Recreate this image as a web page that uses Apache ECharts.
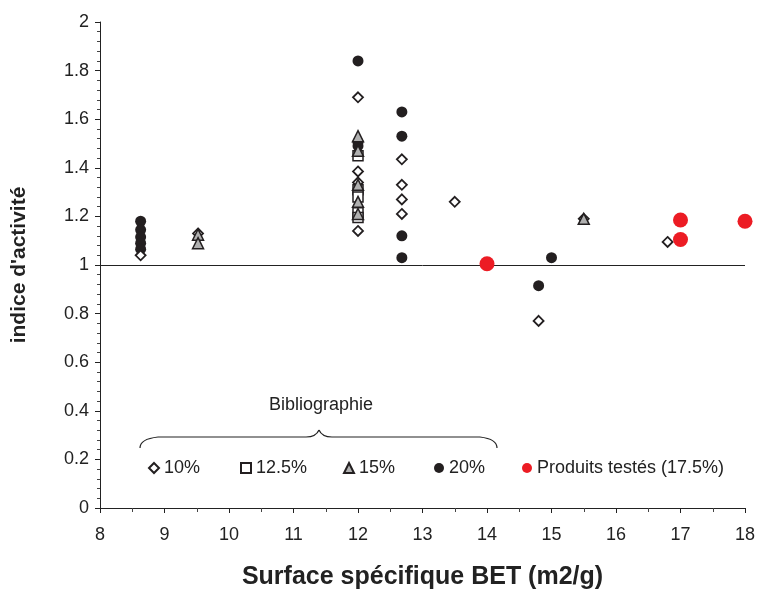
<!DOCTYPE html>
<html>
<head>
<meta charset="utf-8">
<script src="https://cdn.jsdelivr.net/npm/echarts@6/dist/echarts.min.js"></script>
<style>
  html, body { margin: 0; padding: 0; background: #fff; }
  #chart { width: 757px; height: 597px; }
</style>
</head>
<body>
<div id="chart"></div>
<script>
// values: [surface BET, indice d'activité]
const biblio10 = [[8.63,1.04],[9.52,1.13],[12,1.69],[12,1.385],[12,1.34],[12,1.14],[12.68,1.435],[12.68,1.33],[12.68,1.27],[12.68,1.21],[13.5,1.26],[14.8,0.77],[15.5,1.19],[16.8,1.095]];
const biblio125 = [[12,1.45],[12,1.31],[12,1.28],[12,1.215],[12,1.195]];
const biblio15 = [[9.52,1.125],[9.52,1.09],[12,1.53],[12,1.47],[12,1.33],[12,1.26],[12,1.21],[15.5,1.19]];
const biblio20 = [[8.63,1.18],[8.63,1.145],[8.63,1.115],[8.63,1.09],[8.63,1.065],[12,1.84],[12,1.505],[12,1.49],[12,1.30],[12.68,1.63],[12.68,1.53],[12.68,1.12],[12.68,1.03],[14.8,0.915],[15,1.03]];
const produits = [[14,1.005],[17,1.185],[17,1.105],[18,1.18]];

const names = ['10%', '12.5%', '15%', '20%', 'Produits testés (17.5%)'];
const legendLeft = [143, 235, 338, 429, 517];

const chart = echarts.init(document.getElementById('chart'));
const font = 'Liberation Sans, Arial, sans-serif';

const axisCommon = {
  axisLine: { lineStyle: { color: '#222', width: 1 } },
  axisTick: { length: 5, lineStyle: { color: '#222' } },
  splitLine: { show: false }
};

// curly brace under "Bibliographie"
const braceStyle = { fill: 'none', stroke: '#222', lineWidth: 1.2 };
const brace = [
  { type: 'bezierCurve', shape: { x1: 140, y1: 448, x2: 158, y2: 437, cpx1: 140, cpy1: 439 }, style: braceStyle },
  { type: 'line', shape: { x1: 158, y1: 437, x2: 306, y2: 437 }, style: braceStyle },
  { type: 'bezierCurve', shape: { x1: 306, y1: 437, x2: 319, y2: 430, cpx1: 316, cpy1: 437 }, style: braceStyle },
  { type: 'bezierCurve', shape: { x1: 319, y1: 430, x2: 332, y2: 437, cpx1: 322, cpy1: 437 }, style: braceStyle },
  { type: 'line', shape: { x1: 332, y1: 437, x2: 480, y2: 437 }, style: braceStyle },
  { type: 'bezierCurve', shape: { x1: 480, y1: 437, x2: 497, y2: 448, cpx1: 497, cpy1: 439 }, style: braceStyle }
];

const option = {
  animation: false,
  backgroundColor: '#fff',
  grid: { left: 100, right: 12, top: 22, bottom: 89, containLabel: false, outerBoundsMode: 'none' },
  xAxis: Object.assign({}, axisCommon, {
    type: 'value', min: 8, max: 18, interval: 1,
    minorTick: { show: true, splitNumber: 2, length: 4, lineStyle: { color: '#444' } },
    axisLabel: { color: '#222', fontSize: 18, fontFamily: font, margin: 18 },
    name: 'Surface spécifique BET (m2/g)', nameLocation: 'middle', nameGap: 57,
    nameTextStyle: { fontSize: 25, fontWeight: 'bold', color: '#222', fontFamily: font }
  }),
  yAxis: Object.assign({}, axisCommon, {
    type: 'value', min: 0, max: 2, interval: 0.2,
    minorTick: { show: true, splitNumber: 5, length: 3, lineStyle: { color: '#444' } },
    axisLabel: { color: '#222', fontSize: 18, fontFamily: font, margin: 11 },
    name: "indice d'activité", nameLocation: 'middle', nameGap: 70,
    nameTextStyle: { fontSize: 21, fontWeight: 'bold', color: '#222', fontFamily: font }
  }),
  legend: names.map((n, i) => ({
    data: [n], left: legendLeft[i], top: 454,
    itemWidth: 10, itemHeight: 10, itemGap: 4,
    textStyle: { fontSize: 18, color: '#222', fontFamily: font }
  })),
  graphic: [
    { type: 'text', left: 269, top: 396,
      style: { text: 'Bibliographie', fontSize: 18, fill: '#222', fontFamily: font } }
  ].concat(brace),
  series: [
    { name: '20%', type: 'scatter', data: biblio20, symbol: 'circle', symbolSize: 11,
      itemStyle: { color: '#231f20', opacity: 1 }, z: 2,
      markLine: { silent: true, symbol: 'none', label: { show: false },
        lineStyle: { color: '#222', width: 1, type: 'solid' },
        data: [{ yAxis: 1 }] } },
    { name: '12.5%', type: 'scatter', data: biblio125, symbol: 'rect', symbolSize: 10,
      itemStyle: { color: '#fff', borderColor: '#231f20', borderWidth: 1.5, opacity: 1 }, z: 3 },
    { name: '10%', type: 'scatter', data: biblio10, symbol: 'diamond', symbolSize: 10,
      itemStyle: { color: '#fff', borderColor: '#231f20', borderWidth: 1.8, opacity: 1 }, z: 4 },
    { name: '15%', type: 'scatter', data: biblio15, symbol: 'triangle', symbolSize: 11,
      itemStyle: { color: '#b0b0b0', borderColor: '#231f20', borderWidth: 1.5, opacity: 1 }, z: 5 },
    { name: 'Produits testés (17.5%)', type: 'scatter', data: produits, symbol: 'circle', symbolSize: 15,
      itemStyle: { color: '#ec1c24', opacity: 1 }, clip: false, z: 6 }
  ]
};

chart.setOption(option);
</script>
</body>
</html>
